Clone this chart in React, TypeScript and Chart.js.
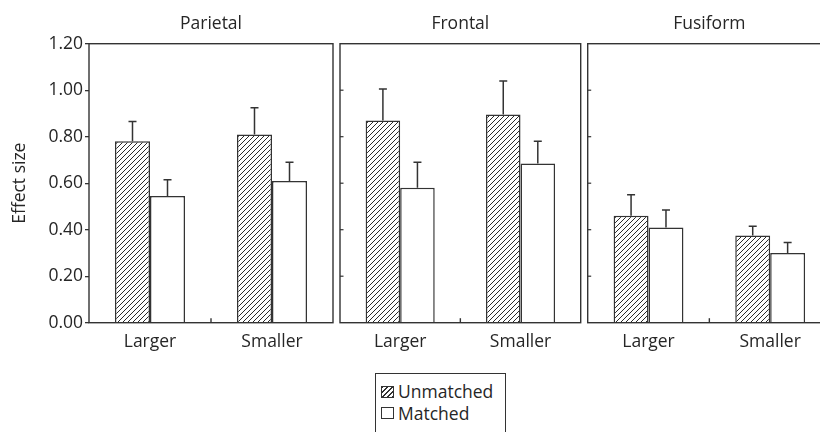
import React, { useEffect, useRef } from "react";
import { Chart, registerables } from "chart.js";

Chart.register(...registerables);

// ---------- data ----------
const panelTitles = ["Parietal", "Frontal", "Fusiform"];
const categories = ["Larger", "Smaller"];
const seriesNames = ["Unmatched", "Matched"];

const parietalUnmatched = [0.78, 0.81];
const parietalMatched = [0.545, 0.61];
const parietalUnmatchedErr = [0.865, 0.925];
const parietalMatchedErr = [0.615, 0.69];

const frontalUnmatched = [0.87, 0.895];
const frontalMatched = [0.58, 0.685];
const frontalUnmatchedErr = [1.005, 1.04];
const frontalMatchedErr = [0.69, 0.78];

const fusiformUnmatched = [0.46, 0.375];
const fusiformMatched = [0.41, 0.3];
const fusiformUnmatchedErr = [0.55, 0.415];
const fusiformMatchedErr = [0.485, 0.345];

const yTickValues = [0, 0.2, 0.4, 0.6, 0.8, 1.0, 1.2];
const yTickLabels = ["0.00", "0.20", "0.40", "0.60", "0.80", "1.00", "1.20"];
const yAxisTitle = "Effect size";

// ---------- styles ----------
const INK = "#333333";
const TEXT = "#262626";
const FONT_FAMILY = "'Open Sans', 'Noto Sans', sans-serif";
const FONT_SIZE = 17.5;

function makeHatch(): CanvasPattern | string {
  const s = 5;
  const c = document.createElement("canvas");
  c.width = s;
  c.height = s;
  const g = c.getContext("2d");
  if (!g) return "#fff";
  g.fillStyle = "#fff";
  g.fillRect(0, 0, s, s);
  g.strokeStyle = "#2a2a2a";
  g.lineWidth = 1;
  g.beginPath();
  g.moveTo(0, s);
  g.lineTo(s, 0);
  g.moveTo(-1, 1);
  g.lineTo(1, -1);
  g.moveTo(s - 1, s + 1);
  g.lineTo(s + 1, s - 1);
  g.stroke();
  return g.createPattern(c, "repeat") || "#fff";
}

type PanelSpec = {
  title: string;
  unmatched: number[];
  matched: number[];
  unmatchedErr: number[];
  matchedErr: number[];
  left: number;
  width: number;
  padLeft: number;
  padRight: number;
  showY: boolean;
};

const CANVAS_H = 432;
const AREA_TOP = 43.7;
const AREA_BOTTOM = 322.7;
const X_AXIS_H = 40;

const panels: PanelSpec[] = [
  {
    title: panelTitles[0],
    unmatched: parietalUnmatched,
    matched: parietalMatched,
    unmatchedErr: parietalUnmatchedErr,
    matchedErr: parietalMatchedErr,
    left: 0,
    width: 340,
    padLeft: 0,
    padRight: 7,
    showY: true,
  },
  {
    title: panelTitles[1],
    unmatched: frontalUnmatched,
    matched: frontalMatched,
    unmatchedErr: frontalUnmatchedErr,
    matchedErr: frontalMatchedErr,
    left: 330,
    width: 260,
    padLeft: 10,
    padRight: 9.3,
    showY: false,
  },
  {
    title: panelTitles[2],
    unmatched: fusiformUnmatched,
    matched: fusiformMatched,
    unmatchedErr: fusiformUnmatchedErr,
    matchedErr: fusiformMatchedErr,
    left: 578,
    width: 270,
    padLeft: 9.7,
    padRight: 17,
    showY: false,
  },
];

function Panel({ spec }: { spec: PanelSpec }) {
  const ref = useRef<HTMLCanvasElement | null>(null);

  useEffect(() => {
    const canvas = ref.current;
    if (!canvas) return;
    const hatch = makeHatch();
    const errs = [spec.unmatchedErr, spec.matchedErr];

    const panelPlugin = {
      id: "panelDecor",
      afterDatasetsDraw(chart: any) {
        const { ctx, chartArea, scales } = chart;
        const xs = scales.x;
        const ys = scales.y;
        ctx.save();
        // error bars
        ctx.strokeStyle = INK;
        ctx.lineWidth = 1.5;
        for (let d = 0; d < 2; d++) {
          const meta = chart.getDatasetMeta(d);
          meta.data.forEach((el: any, j: number) => {
            const x = el.x;
            const yTop = el.y;
            const yErr = ys.getPixelForValue(errs[d][j]);
            ctx.beginPath();
            ctx.moveTo(x, yTop);
            ctx.lineTo(x, yErr);
            ctx.moveTo(x - 4, yErr);
            ctx.lineTo(x + 4, yErr);
            ctx.stroke();
          });
        }
        // frame
        ctx.lineWidth = 1.4;
        ctx.strokeStyle = INK;
        ctx.strokeRect(
          chartArea.left,
          chartArea.top,
          chartArea.right - chartArea.left,
          chartArea.bottom - chartArea.top
        );
        // middle x tick (inward)
        const mid = (xs.getPixelForValue(0) + xs.getPixelForValue(1)) / 2;
        ctx.beginPath();
        ctx.moveTo(mid, chartArea.bottom);
        ctx.lineTo(mid, chartArea.bottom - 4.5);
        ctx.stroke();
        // inward y ticks for panels without y labels
        if (!spec.showY) {
          ctx.lineWidth = 1.2;
          yTickValues.forEach((v) => {
            if (v === yTickValues[0] || v === yTickValues[yTickValues.length - 1]) return;
            const y = ys.getPixelForValue(v);
            ctx.beginPath();
            ctx.moveTo(chartArea.left, y);
            ctx.lineTo(chartArea.left + 3.5, y);
            ctx.stroke();
          });
        }
        // panel title
        ctx.fillStyle = TEXT;
        ctx.font = `${FONT_SIZE}px ${FONT_FAMILY}`;
        ctx.textAlign = "center";
        ctx.textBaseline = "alphabetic";
        ctx.fillText(spec.title, (chartArea.left + chartArea.right) / 2, chartArea.top - 14.4);
        ctx.restore();
      },
    };

    const chart = new Chart(canvas, {
      type: "bar",
      data: {
        labels: categories,
        datasets: [
          {
            label: seriesNames[0],
            data: spec.unmatched,
            backgroundColor: hatch as any,
            borderColor: INK,
            borderWidth: 1.5,
            categoryPercentage: 0.574,
            barPercentage: 1,
          },
          {
            label: seriesNames[1],
            data: spec.matched,
            backgroundColor: "#ffffff",
            borderColor: INK,
            borderWidth: 1.5,
            categoryPercentage: 0.574,
            barPercentage: 1,
          },
        ],
      },
      options: {
        responsive: false,
        animation: false,
        devicePixelRatio: 1,
        layout: {
          padding: {
            top: AREA_TOP,
            left: spec.padLeft,
            right: spec.padRight,
            bottom: CANVAS_H - AREA_BOTTOM - X_AXIS_H,
          },
        },
        plugins: {
          legend: { display: false },
          tooltip: { enabled: false },
          title: { display: false },
        },
        scales: {
          x: {
            grid: { display: false, drawTicks: false },
            border: { display: false },
            ticks: {
              color: TEXT,
              font: { family: FONT_FAMILY, size: FONT_SIZE },
              padding: 9,
            },
            afterFit: (s: any) => {
              s.height = X_AXIS_H;
            },
          },
          y: {
            display: spec.showY,
            min: 0,
            max: 1.2,
            afterBuildTicks: (s: any) => {
              s.ticks = yTickValues.map((v) => ({ value: v }));
            },
            ticks: {
              color: TEXT,
              font: { family: FONT_FAMILY, size: FONT_SIZE },
              padding: 2,
              callback: (_v: any, i: number) => yTickLabels[i],
            },
            grid: {
              drawOnChartArea: false,
              drawTicks: true,
              tickLength: 4,
              color: INK,
              lineWidth: 1.3,
            },
            border: { display: false },
            title: {
              display: spec.showY,
              text: yAxisTitle,
              color: TEXT,
              font: { family: FONT_FAMILY, size: FONT_SIZE },
              padding: { top: 10, bottom: 0 },
            },
            afterFit: (s: any) => {
              s.width = spec.showY ? 89 : 0;
            },
          },
        },
      },
      plugins: [panelPlugin],
    } as any);

    return () => chart.destroy();
  }, [spec]);

  return (
    <canvas
      ref={ref}
      width={spec.width}
      height={CANVAS_H}
      style={{
        position: "absolute",
        left: spec.left,
        top: 0,
        width: spec.width,
        height: CANVAS_H,
      }}
    />
  );
}

const hatchCss = "repeating-linear-gradient(-45deg, #333 0px, #333 1px, #fff 1px, #fff 3.5px)";

export default function App() {
  return (
    <div
      style={{
        position: "absolute",
        left: 0,
        top: 0,
        width: 820,
        height: 432,
        overflow: "hidden",
        background: "#fff",
      }}
    >
      {panels.map((p) => (
        <Panel key={p.title} spec={p} />
      ))}
      <div
        style={{
          position: "absolute",
          left: 375,
          top: 373,
          width: 131,
          height: 80,
          border: `1.5px solid ${INK}`,
          boxSizing: "border-box",
          background: "#fff",
          fontFamily: FONT_FAMILY,
          fontSize: FONT_SIZE,
          color: TEXT,
        }}
      >
        {seriesNames.map((name, i) => (
          <div
            key={name}
            style={{
              position: "absolute",
              left: 5,
              top: i === 0 ? 7 : 28.5,
              height: 21,
              display: "flex",
              alignItems: "center",
              whiteSpace: "nowrap",
            }}
          >
            <span
              style={{
                display: "inline-block",
                width: 13,
                height: 12,
                boxSizing: "border-box",
                border: "1px solid #333",
                background: i === 0 ? hatchCss : "#fff",
                marginRight: 4,
              }}
            />
            <span style={{ lineHeight: "21px" }}>{name}</span>
          </div>
        ))}
      </div>
    </div>
  );
}
